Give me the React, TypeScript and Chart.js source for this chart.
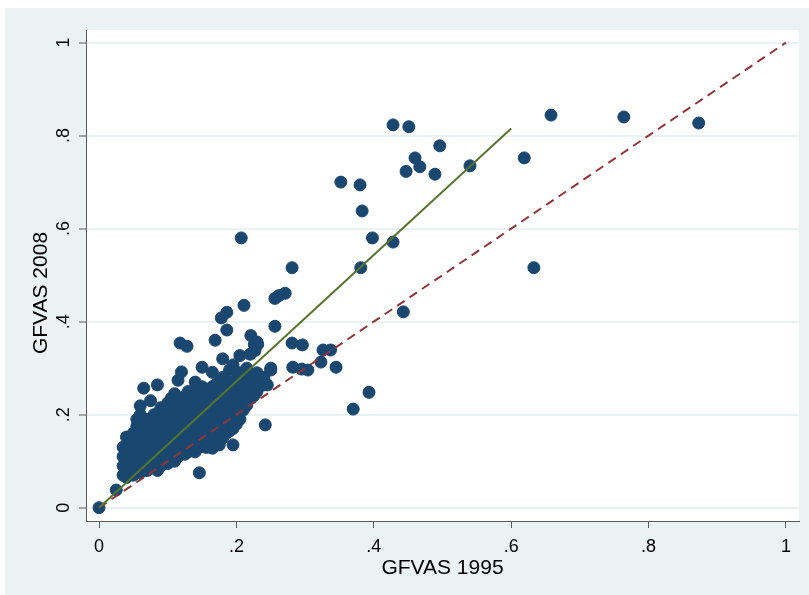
import React, { useEffect, useRef } from "react";
import { Chart, registerables } from "chart.js";

Chart.register(...registerables);

const W = 809;
const H = 595;

// Tick values and labels
const TICK_VALUES = [0, 0.2, 0.4, 0.6, 0.8, 1];
const TICK_LABELS = ["0", ".2", ".4", ".6", ".8", "1"];
const X_TITLE = "GFVAS 1995";
const Y_TITLE = "GFVAS 2008";

// Scatter points: GFVAS 1995 (x) and GFVAS 2008 (y)
// Outliers and sparse points
const SPARSE_X = [0, 0.025, 0.352, 0.38, 0.383, 0.398, 0.207, 0.428, 0.451, 0.46, 0.467, 0.447, 0.489, 0.496, 0.54, 0.619, 0.658, 0.764, 0.873, 0.633, 0.428, 0.381, 0.281, 0.443, 0.37, 0.393, 0.242, 0.146, 0.195, 0.211, 0.186, 0.178, 0.186, 0.169, 0.118, 0.128, 0.256, 0.262, 0.271, 0.256, 0.281, 0.296, 0.326, 0.337, 0.345, 0.323, 0.282, 0.295, 0.304, 0.25, 0.237, 0.221, 0.226, 0.227, 0.231];
const SPARSE_Y = [0, 0.038, 0.70, 0.694, 0.638, 0.58, 0.58, 0.823, 0.819, 0.752, 0.733, 0.723, 0.717, 0.778, 0.735, 0.752, 0.844, 0.84, 0.827, 0.516, 0.571, 0.516, 0.516, 0.421, 0.212, 0.248, 0.178, 0.075, 0.135, 0.435, 0.42, 0.408, 0.382, 0.36, 0.354, 0.347, 0.45, 0.456, 0.461, 0.39, 0.354, 0.35, 0.339, 0.339, 0.302, 0.313, 0.302, 0.298, 0.296, 0.296, 0.264, 0.37, 0.351, 0.338, 0.351];

// Dense cluster, listed by x column
const CLUSTER_X = [
  0.035, 0.035, 0.035, 0.035,
  0.04, 0.04, 0.04, 0.04, 0.04,
  0.045, 0.045, 0.045, 0.045, 0.045,
  0.05, 0.05, 0.05, 0.05, 0.05, 0.05,
  0.055, 0.055, 0.055, 0.055, 0.055, 0.055,
  0.06, 0.06, 0.06, 0.06, 0.06, 0.06, 0.06, 0.06,
  0.065, 0.065, 0.065, 0.065, 0.065, 0.065, 0.065,
  0.07, 0.07, 0.07, 0.07, 0.07, 0.07, 0.07,
  0.075, 0.075, 0.075, 0.075, 0.075, 0.075, 0.075,
  0.08, 0.08, 0.08, 0.08, 0.08, 0.08, 0.08,
  0.085, 0.085, 0.085, 0.085, 0.085, 0.085, 0.085, 0.085,
  0.09, 0.09, 0.09, 0.09, 0.09, 0.09, 0.09, 0.09,
  0.095, 0.095, 0.095, 0.095, 0.095, 0.095,
  0.1, 0.1, 0.1, 0.1, 0.1, 0.1, 0.1, 0.1,
  0.105, 0.105, 0.105, 0.105, 0.105, 0.105, 0.105,
  0.11, 0.11, 0.11, 0.11, 0.11, 0.11, 0.11, 0.11,
  0.115, 0.115, 0.115, 0.115, 0.115, 0.115, 0.115, 0.115,
  0.12, 0.12, 0.12, 0.12, 0.12, 0.12, 0.12, 0.12,
  0.125, 0.125, 0.125, 0.125, 0.125, 0.125, 0.125,
  0.13, 0.13, 0.13, 0.13, 0.13, 0.13, 0.13,
  0.135, 0.135, 0.135, 0.135, 0.135, 0.135,
  0.14, 0.14, 0.14, 0.14, 0.14, 0.14, 0.14, 0.14,
  0.145, 0.145, 0.145, 0.145, 0.145, 0.145, 0.145,
  0.15, 0.15, 0.15, 0.15, 0.15, 0.15, 0.15, 0.15,
  0.155, 0.155, 0.155, 0.155, 0.155, 0.155, 0.155,
  0.16, 0.16, 0.16, 0.16, 0.16, 0.16, 0.16,
  0.165, 0.165, 0.165, 0.165, 0.165, 0.165, 0.165, 0.165,
  0.17, 0.17, 0.17, 0.17, 0.17, 0.17, 0.17,
  0.175, 0.175, 0.175, 0.175, 0.175, 0.175, 0.175,
  0.18, 0.18, 0.18, 0.18, 0.18, 0.18, 0.18, 0.18,
  0.185, 0.185, 0.185, 0.185, 0.185, 0.185,
  0.19, 0.19, 0.19, 0.19, 0.19, 0.19, 0.19,
  0.195, 0.195, 0.195, 0.195, 0.195, 0.195,
  0.2, 0.2, 0.2, 0.2, 0.2, 0.2,
  0.205, 0.205, 0.205, 0.205, 0.205, 0.205, 0.205,
  0.21, 0.21, 0.21, 0.21, 0.21,
  0.215, 0.215, 0.215, 0.215, 0.215,
  0.22, 0.22, 0.22, 0.22,
  0.225, 0.225, 0.225, 0.225,
  0.23, 0.23, 0.23, 0.23,
  0.24, 0.24, 0.245, 0.25,
  0.158, 0.165, 0.175
];
const CLUSTER_Y = [
  0.07, 0.09, 0.11, 0.13,
  0.065, 0.08, 0.10, 0.12, 0.152,
  0.075, 0.095, 0.115, 0.135, 0.15,
  0.07, 0.085, 0.105, 0.125, 0.14, 0.16,
  0.08, 0.1, 0.12, 0.135, 0.175, 0.19,
  0.075, 0.09, 0.11, 0.13, 0.15, 0.165, 0.20, 0.219,
  0.085, 0.105, 0.125, 0.14, 0.16, 0.18, 0.257,
  0.08, 0.095, 0.115, 0.135, 0.155, 0.17, 0.19,
  0.09, 0.11, 0.13, 0.145, 0.165, 0.185, 0.23,
  0.085, 0.1, 0.12, 0.14, 0.16, 0.175, 0.2,
  0.08, 0.095, 0.115, 0.13, 0.15, 0.17, 0.19, 0.264,
  0.09, 0.105, 0.125, 0.145, 0.16, 0.18, 0.2, 0.215,
  0.1, 0.12, 0.135, 0.155, 0.175, 0.195,
  0.095, 0.11, 0.13, 0.15, 0.165, 0.185, 0.205, 0.225,
  0.105, 0.125, 0.14, 0.16, 0.18, 0.2, 0.235,
  0.1, 0.115, 0.135, 0.155, 0.17, 0.19, 0.21, 0.245,
  0.11, 0.13, 0.145, 0.165, 0.185, 0.2, 0.22, 0.274,
  0.12, 0.14, 0.16, 0.175, 0.195, 0.215, 0.23, 0.292,
  0.115, 0.13, 0.15, 0.17, 0.19, 0.205, 0.24,
  0.12, 0.14, 0.16, 0.18, 0.2, 0.22, 0.25,
  0.125, 0.145, 0.165, 0.185, 0.21, 0.23,
  0.12, 0.135, 0.155, 0.175, 0.195, 0.215, 0.24, 0.27,
  0.13, 0.15, 0.17, 0.19, 0.205, 0.225, 0.25,
  0.135, 0.16, 0.18, 0.2, 0.22, 0.235, 0.26, 0.302,
  0.13, 0.145, 0.165, 0.185, 0.21, 0.23, 0.245,
  0.14, 0.155, 0.175, 0.195, 0.215, 0.24, 0.255,
  0.135, 0.15, 0.17, 0.19, 0.205, 0.225, 0.26, 0.291,
  0.14, 0.16, 0.18, 0.2, 0.22, 0.24, 0.265,
  0.145, 0.165, 0.185, 0.21, 0.23, 0.25, 0.27,
  0.15, 0.17, 0.195, 0.215, 0.235, 0.255, 0.28, 0.32,
  0.16, 0.18, 0.2, 0.225, 0.245, 0.265,
  0.165, 0.19, 0.21, 0.23, 0.25, 0.27, 0.296,
  0.17, 0.2, 0.22, 0.24, 0.26, 0.307,
  0.18, 0.2, 0.215, 0.235, 0.255, 0.275,
  0.19, 0.21, 0.23, 0.25, 0.27, 0.29, 0.327,
  0.21, 0.225, 0.245, 0.265, 0.285,
  0.22, 0.24, 0.26, 0.268, 0.3,
  0.235, 0.255, 0.275, 0.33,
  0.24, 0.26, 0.28, 0.268,
  0.25, 0.27, 0.29, 0.356,
  0.264, 0.28, 0.264, 0.3,
  0.13, 0.128, 0.135
];

// Fitted line (green) and 45-degree line (dashed)
const FIT_X = [0, 0.6];
const FIT_Y = [0, 0.815];
const DIAG_X = [0, 1];
const DIAG_Y = [0, 1];

const FONT = "'Liberation Sans', Arial, Helvetica, sans-serif";

const toPts = (xs: number[], ys: number[]) => xs.map((x, i) => ({ x, y: ys[i] }));

const stataPlugin = {
  id: "stataLook",
  beforeDraw(chart: any) {
    const ctx = chart.ctx;
    const a = chart.chartArea;
    ctx.save();
    ctx.fillStyle = "#ffffff";
    ctx.fillRect(0, 0, W, H);
    ctx.fillStyle = "#EAF2F3";
    ctx.fillRect(5, 8, W - 5, H - 8);
    ctx.fillStyle = "#ffffff";
    ctx.fillRect(a.left, a.top, a.right - a.left, a.bottom - a.top);
    ctx.restore();
  },
  afterDraw(chart: any) {
    const ctx = chart.ctx;
    const a = chart.chartArea;
    const xs = chart.scales.x;
    const ys = chart.scales.y;
    ctx.save();
    ctx.fillStyle = "#000000";
    ctx.font = `18px ${FONT}`;
    ctx.textAlign = "center";
    ctx.textBaseline = "alphabetic";
    TICK_VALUES.forEach((v, i) => {
      ctx.fillText(TICK_LABELS[i], xs.getPixelForValue(v), 552);
    });
    TICK_VALUES.forEach((v, i) => {
      ctx.save();
      ctx.translate(69, ys.getPixelForValue(v));
      ctx.rotate(-Math.PI / 2);
      ctx.fillText(TICK_LABELS[i], 0, 0);
      ctx.restore();
    });
    ctx.font = `21px ${FONT}`;
    ctx.fillText(X_TITLE, (a.left + a.right) / 2, 574);
    ctx.save();
    ctx.translate(47, 293);
    ctx.rotate(-Math.PI / 2);
    ctx.fillText(Y_TITLE, 0, 0);
    ctx.restore();
    ctx.restore();
  },
};

export default function App() {
  const ref = useRef<HTMLCanvasElement | null>(null);

  useEffect(() => {
    if (!ref.current) return;
    const setTicks = (scale: any) => {
      scale.ticks = TICK_VALUES.map((value) => ({ value }));
    };
    const chart = new Chart(ref.current, {
      type: "scatter",
      data: {
        datasets: [
          {
            type: "line",
            data: toPts(FIT_X, FIT_Y),
            borderColor: "#55752F",
            borderWidth: 2,
            pointRadius: 0,
            fill: false,
            order: 1,
          } as any,
          {
            type: "line",
            data: toPts(DIAG_X, DIAG_Y),
            borderColor: "#90353B",
            borderWidth: 2,
            borderDash: [9, 6],
            pointRadius: 0,
            fill: false,
            order: 2,
          } as any,
          {
            data: [...toPts(SPARSE_X, SPARSE_Y), ...toPts(CLUSTER_X, CLUSTER_Y)],
            backgroundColor: "#1A476F",
            borderColor: "#1A476F",
            borderWidth: 1,
            pointRadius: 6,
            order: 3,
          },
        ],
      },
      options: {
        responsive: false,
        animation: false,
        devicePixelRatio: 1,
        layout: { padding: { left: 0, top: 30, right: 10, bottom: 0 } },
        plugins: { legend: { display: false }, tooltip: { enabled: false } },
        scales: {
          x: {
            type: "linear",
            min: -0.019,
            max: 1.019,
            afterBuildTicks: setTicks,
            afterFit: (s: any) => {
              s.height = 74;
            },
            ticks: { display: false },
            grid: {
              color: "rgba(0,0,0,0)",
              tickColor: "#5a5a5a",
              tickLength: 7,
              tickWidth: 1,
              lineWidth: 1,
            },
            border: { display: true, color: "#5a5a5a", width: 1 },
          },
          y: {
            type: "linear",
            min: -0.0286,
            max: 1.027,
            afterBuildTicks: setTicks,
            afterFit: (s: any) => {
              s.width = 86;
            },
            ticks: { display: false },
            grid: {
              color: "#EAF2F3",
              lineWidth: 2,
              tickColor: "#5a5a5a",
              tickLength: 7,
              tickWidth: 1,
            },
            border: { display: true, color: "#5a5a5a", width: 1 },
          },
        },
      },
      plugins: [stataPlugin],
    } as any);
    return () => chart.destroy();
  }, []);

  return (
    <div style={{ position: "absolute", left: 0, top: 0, width: W, height: H }}>
      <canvas ref={ref} width={W} height={H} style={{ width: W, height: H, display: "block" }} />
    </div>
  );
}
